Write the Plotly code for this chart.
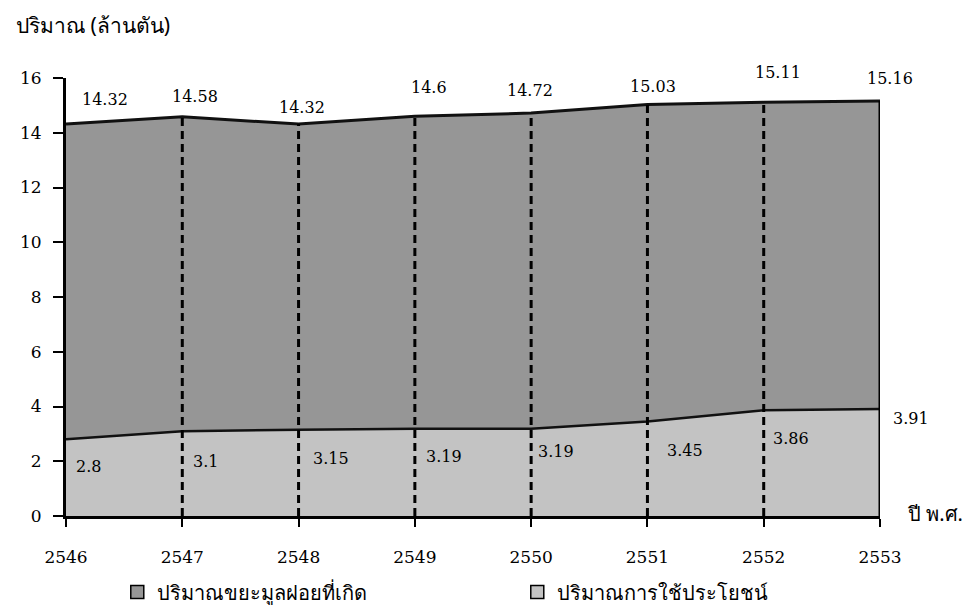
import plotly.graph_objects as go

years = [2546, 2547, 2548, 2549, 2550, 2551, 2552, 2553]
generated = [14.32, 14.58, 14.32, 14.6, 14.72, 15.03, 15.11, 15.16]
utilized = [2.8, 3.1, 3.15, 3.19, 3.19, 3.45, 3.86, 3.91]
gen_labels = ["14.32", "14.58", "14.32", "14.6", "14.72", "15.03", "15.11", "15.16"]
util_labels = ["2.8", "3.1", "3.15", "3.19", "3.19", "3.45", "3.86", "3.91"]
y_ticks = [0, 2, 4, 6, 8, 10, 12, 14, 16]
name_gen = "ปริมาณขยะมูลฝอยที่เกิด"
name_util = "ปริมาณการใช้ประโยชน์"
y_title = "ปริมาณ (ล้านตัน)"
x_title = "ปี พ.ศ."

FONT = "Noto Sans, DejaVu Sans, sans-serif"
NUMFONT = "DejaVu Serif, Liberation Serif, serif"
DARK = "#969696"
LIGHT = "#c3c3c3"

fig = go.Figure()
fig.add_trace(go.Scatter(x=years, y=generated, name=name_gen, mode="lines",
                         fill="tozeroy", fillcolor=DARK, showlegend=False, hoverinfo="x+y",
                         line=dict(color="#111111", width=3)))
fig.add_trace(go.Scatter(x=years, y=utilized, name=name_util, mode="lines",
                         fill="tozeroy", fillcolor=LIGHT, showlegend=False, hoverinfo="x+y",
                         line=dict(color="#111111", width=2.5)))

# vertical dashed drop lines from data
vx, vy = [], []
for i, yr in enumerate(years[1:-1], start=1):
    vx += [yr, yr, None]
    vy += [0, generated[i], None]
fig.add_trace(go.Scatter(x=vx, y=vy, mode="lines", showlegend=False, hoverinfo="skip",
                         line=dict(color="#000000", width=3, dash="8px,5px")))
# right edge solid line
fig.add_trace(go.Scatter(x=[years[-1], years[-1]], y=[0, generated[-1]], mode="lines",
                         showlegend=False, hoverinfo="skip",
                         line=dict(color="#000000", width=3)))

# legend entries (square swatches)
fig.add_trace(go.Scatter(x=[None], y=[None], mode="markers", name=name_gen,
                         marker=dict(symbol="square", size=13, color=DARK,
                                     line=dict(color="#000", width=1.5))))
fig.add_trace(go.Scatter(x=[None], y=[None], mode="markers", name=name_util,
                         marker=dict(symbol="square", size=13, color=LIGHT,
                                     line=dict(color="#000", width=1.5))))

# data labels (pixel offsets from their points)
gen_xs = [39, 13, 3, 14, -1, 6, 14, 10]
gen_ys = [24, 20, 16, 29, 23, 18, 30, 23]
for i, yr in enumerate(years):
    fig.add_annotation(x=yr, y=generated[i], text=gen_labels[i], showarrow=False,
                       xshift=gen_xs[i], yshift=gen_ys[i],
                       font=dict(family=NUMFONT, size=16, color="#000"))
util_xs = [22, 23, 32, 29, 25, 38, 27, 31]
util_ys = [-27, -30, -29, -28, -23, -29, -28, -10]
for i, yr in enumerate(years):
    fig.add_annotation(x=yr, y=utilized[i], text=util_labels[i], showarrow=False,
                       xshift=util_xs[i], yshift=util_ys[i],
                       font=dict(family=NUMFONT, size=16, color="#000"))

fig.add_annotation(xref="paper", yref="paper", x=-0.064, y=1.122, xanchor="left", yanchor="middle",
                   text=y_title, showarrow=False, font=dict(family=FONT, size=21, color="#000"))
fig.add_annotation(xref="paper", yref="paper", x=1.032, y=0.005, xanchor="left", yanchor="middle",
                   text=x_title, showarrow=False, font=dict(family=FONT, size=20, color="#000"))

fig.update_layout(
    width=978, height=605,
    margin=dict(l=58, r=106, t=70, b=97, autoexpand=False),
    paper_bgcolor="white", plot_bgcolor="white",
    showlegend=True,
    legend=dict(orientation="h", x=0.063, xanchor="left", y=-0.1735, yanchor="middle",
                font=dict(family=FONT, size=20, color="#000"), itemwidth=30,
                entrywidth=355, traceorder="normal", bgcolor="rgba(0,0,0,0)"),
    xaxis=dict(range=[2546, 2553], tickmode="array", tickvals=years,
               ticktext=[str(y) for y in years], showgrid=False, zeroline=False,
               showline=True, linecolor="#000", linewidth=3, ticks="outside",
               ticklen=8, tickwidth=2, tickcolor="#000", ticklabelstandoff=16,
               tickfont=dict(family=NUMFONT, size=17, color="#000")),
    yaxis=dict(range=[0, 16], tickmode="array", tickvals=y_ticks, showgrid=False, zeroline=False,
               showline=True, linecolor="#000", linewidth=3, ticks="outside",
               ticklen=10, tickwidth=2, tickcolor="#000", ticklabelstandoff=8,
               tickfont=dict(family=NUMFONT, size=17, color="#000")),
)
fig.write_html("out.html")
